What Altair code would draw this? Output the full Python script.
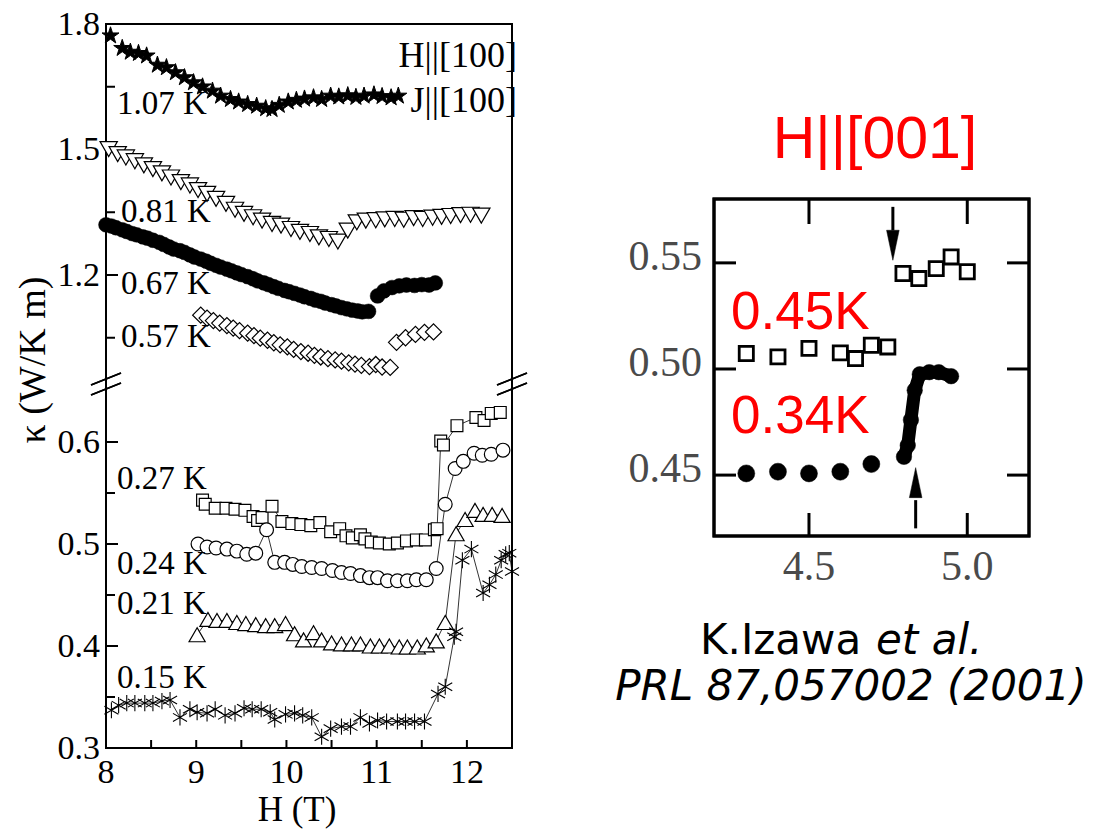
import altair as alt
import pandas as pd

# ------------------------------------------------------------------
# Thermal conductivity kappa(H) of CeCoIn5, H || [100], J || [100]
# ------------------------------------------------------------------
# 1.07 K (filled stars)
H_107 = [8.05, 8.18, 8.27, 8.36, 8.45, 8.57, 8.67, 8.77, 8.87, 8.97, 9.07, 9.18,
         9.27, 9.38, 9.47, 9.57, 9.67, 9.77, 9.84, 9.92, 10.02, 10.11, 10.20, 10.30,
         10.39, 10.49, 10.58, 10.68, 10.77, 10.86, 10.97, 11.06, 11.16, 11.24]
K_107 = [1.772, 1.742, 1.733, 1.730, 1.724, 1.702, 1.696, 1.684, 1.672, 1.660, 1.650, 1.640,
         1.628, 1.620, 1.614, 1.608, 1.604, 1.598, 1.596, 1.606, 1.614, 1.618, 1.621, 1.624,
         1.620, 1.628, 1.626, 1.629, 1.625, 1.628, 1.631, 1.627, 1.624, 1.628]

# 0.81 K (open down-triangles)
H_081 = [8.03, 8.13, 8.22, 8.32, 8.42, 8.52, 8.62, 8.72, 8.83, 8.93, 9.02, 9.12, 9.22, 9.33,
         9.43, 9.53, 9.63, 9.73, 9.84, 9.94, 10.05, 10.15, 10.26, 10.36, 10.47, 10.57, 10.68,
         10.78, 10.88, 10.99, 11.09, 11.20, 11.30, 11.41, 11.51, 11.62, 11.72, 11.82, 11.93,
         12.04, 12.16]
K_081 = [1.501, 1.489, 1.481, 1.472, 1.462, 1.453, 1.443, 1.433, 1.422, 1.414, 1.403, 1.394,
         1.382, 1.370, 1.356, 1.346, 1.338, 1.330, 1.322, 1.318, 1.310, 1.303, 1.298, 1.290,
         1.286, 1.280, 1.306, 1.326, 1.330, 1.331, 1.333, 1.334, 1.332, 1.336, 1.334, 1.337,
         1.339, 1.341, 1.343, 1.344, 1.342]

# 0.67 K (filled circles)
H_067 = [8.00, 8.06, 8.11, 8.18, 8.23, 8.29, 8.34, 8.41, 8.46, 8.52, 8.59, 8.64, 8.70, 8.75,
         8.82, 8.87, 8.93, 8.98, 9.05, 9.11, 9.16, 9.22, 9.27, 9.34, 9.39, 9.45, 9.50, 9.57,
         9.63, 9.68, 9.75, 9.80, 9.86, 9.91, 9.98, 10.03, 10.09, 10.15, 10.20, 10.27, 10.32,
         10.38, 10.43, 10.50, 10.55, 10.61, 10.67, 10.73, 10.79, 10.84, 10.91, 11.01, 11.08,
         11.17, 11.25, 11.33, 11.42, 11.50, 11.58, 11.65]
K_067 = [1.320, 1.317, 1.313, 1.308, 1.304, 1.299, 1.296, 1.291, 1.288, 1.283, 1.278, 1.273,
         1.267, 1.262, 1.258, 1.254, 1.248, 1.243, 1.238, 1.233, 1.228, 1.223, 1.219, 1.214,
         1.210, 1.205, 1.201, 1.196, 1.191, 1.186, 1.181, 1.177, 1.172, 1.168, 1.163, 1.160,
         1.156, 1.152, 1.148, 1.144, 1.140, 1.137, 1.133, 1.129, 1.126, 1.122, 1.119, 1.116,
         1.114, 1.112, 1.113, 1.150, 1.162, 1.170, 1.174, 1.176, 1.175, 1.177, 1.176, 1.181]

# 0.57 K (open diamonds)
H_057 = [9.05, 9.12, 9.19, 9.26, 9.34, 9.41, 9.48, 9.57, 9.64, 9.71, 9.79, 9.86, 9.93, 10.01,
         10.08, 10.16, 10.24, 10.31, 10.38, 10.46, 10.54, 10.61, 10.69, 10.76, 10.83, 10.92,
         10.99, 11.06, 11.15, 11.22, 11.32, 11.43, 11.53, 11.63]
K_057 = [1.104, 1.097, 1.091, 1.085, 1.079, 1.073, 1.067, 1.061, 1.055, 1.049, 1.044, 1.038,
         1.033, 1.028, 1.022, 1.017, 1.013, 1.008, 1.004, 1.000, 0.997, 0.994, 0.990, 0.987,
         0.984, 0.981, 0.986, 0.980, 0.979, 1.039, 1.050, 1.058, 1.063, 1.064]

# 0.27 K (open squares)
H_027 = [9.07, 9.10, 9.21, 9.33, 9.43, 9.54, 9.63, 9.68, 9.73, 9.84, 9.95, 10.06, 10.16,
         10.27, 10.37, 10.49, 10.59, 10.66, 10.73, 10.82, 10.87, 10.94, 11.03, 11.14, 11.23,
         11.33, 11.44, 11.54, 11.64, 11.67, 11.71, 11.74, 11.89, 12.10, 12.19, 12.27, 12.37]
K_027 = [0.543, 0.539, 0.535, 0.535, 0.534, 0.533, 0.527, 0.523, 0.526, 0.537, 0.522, 0.520,
         0.519, 0.518, 0.521, 0.512, 0.515, 0.508, 0.506, 0.509, 0.505, 0.502, 0.501, 0.500,
         0.501, 0.503, 0.504, 0.504, 0.514, 0.515, 0.601, 0.597, 0.616, 0.624, 0.621, 0.628,
         0.629]

# 0.24 K (open circles)
H_024 = [9.02, 9.12, 9.22, 9.34, 9.45, 9.56, 9.66, 9.78, 9.87, 9.98, 10.07, 10.17, 10.28,
         10.39, 10.51, 10.61, 10.71, 10.82, 10.92, 11.01, 11.12, 11.23, 11.34, 11.44, 11.55,
         11.66, 11.76, 11.87, 11.96, 12.08, 12.17, 12.27, 12.40]
K_024 = [0.500, 0.497, 0.496, 0.495, 0.493, 0.490, 0.491, 0.514, 0.482, 0.482, 0.480, 0.478,
         0.477, 0.476, 0.474, 0.472, 0.471, 0.469, 0.467, 0.467, 0.464, 0.464, 0.464, 0.465,
         0.465, 0.476, 0.539, 0.574, 0.581, 0.589, 0.587, 0.588, 0.592]

# 0.21 K (open up-triangles)
H_021 = [9.01, 9.13, 9.23, 9.34, 9.45, 9.55, 9.66, 9.77, 9.87, 9.99, 10.09, 10.19, 10.30,
         10.39, 10.50, 10.61, 10.72, 10.82, 10.93, 11.03, 11.14, 11.25, 11.34, 11.45, 11.55,
         11.66, 11.76, 11.88, 11.98, 12.09, 12.18, 12.28, 12.39]
K_021 = [0.411, 0.426, 0.425, 0.425, 0.423, 0.422, 0.421, 0.420, 0.420, 0.422, 0.412, 0.406,
         0.413, 0.406, 0.403, 0.402, 0.402, 0.402, 0.400, 0.400, 0.400, 0.399, 0.399, 0.399,
         0.401, 0.405, 0.423, 0.510, 0.524, 0.533, 0.529, 0.529, 0.528]

# 0.15 K (asterisks)
H_015 = [8.06, 8.14, 8.23, 8.32, 8.43, 8.52, 8.62, 8.71, 8.82, 8.93, 9.01, 9.12, 9.21, 9.32,
         9.43, 9.53, 9.62, 9.72, 9.82, 9.87, 9.99, 10.09, 10.18, 10.28, 10.39, 10.49, 10.61,
         10.71, 10.82, 10.92, 11.01, 11.11, 11.23, 11.32, 11.42, 11.53, 11.68, 11.76, 11.86,
         11.88, 11.95, 12.05, 12.18, 12.25, 12.32, 12.38, 12.43, 12.47, 12.50]
K_015 = [0.337, 0.342, 0.344, 0.344, 0.344, 0.344, 0.346, 0.347, 0.330, 0.338, 0.335, 0.334,
         0.338, 0.332, 0.334, 0.339, 0.338, 0.338, 0.335, 0.328, 0.333, 0.334, 0.332, 0.330,
         0.311, 0.319, 0.321, 0.321, 0.330, 0.324, 0.327, 0.326, 0.326, 0.326, 0.326, 0.326,
         0.353, 0.360, 0.409, 0.414, 0.484, 0.495, 0.452, 0.460, 0.470, 0.484, 0.490, 0.491,
         0.473]

# Inset: H || [001]
H_045 = [4.302, 4.402, 4.500, 4.599, 4.647, 4.697, 4.749, 4.797, 4.847, 4.902, 4.949, 5.000]
K_045 = [0.5073, 0.5057, 0.5097, 0.5076, 0.5049, 0.5112, 0.5104, 0.5450, 0.5426, 0.5473,
         0.5528, 0.5458]
H_034_low = [4.302, 4.402, 4.500, 4.599, 4.697]
K_034_low = [0.4508, 0.4516, 0.4508, 0.4516, 0.4552]
H_034_jump = [4.800, 4.812, 4.822, 4.834, 4.850, 4.880, 4.910, 4.949]
K_034_jump = [0.4586, 0.4640, 0.4760, 0.4900, 0.4975, 0.4985, 0.4985, 0.4966]
# transition fields marked by arrows: field, tail, tip
ARROW_H = [4.765, 4.837]
ARROW_TAIL = [0.5764, 0.4249]
ARROW_TIP = [0.5513, 0.4547]

# axis ticks and labels
UP_TICKS_MAJOR = [1.2, 1.5]
UP_TICKS_MINOR = [1.05, 1.35, 1.65]
UP_LABELS = [1.2, 1.5, 1.8]
LO_TICKS_MAJOR = [0.4, 0.5, 0.6]
LO_TICKS_MINOR = [0.35, 0.45, 0.55]
LO_LABELS = [0.3, 0.4, 0.5, 0.6]
X_TICKS = [8.5, 9, 9.5, 10, 10.5, 11, 11.5, 12]
X_LABELS = [8, 9, 10, 11, 12]
IN_Y_TICKS = [0.45, 0.50, 0.55]
IN_X_TICKS = [4.5, 5.0]

TEMPS = ["1.07 K", "0.81 K", "0.67 K", "0.57 K", "0.27 K", "0.24 K", "0.21 K", "0.15 K"]

# ------------------------------------------------------------------
# layout (pixels)
# ------------------------------------------------------------------
W, HGT = 1108, 829
LEFT, RIGHT = 106, 512
TOP, BREAK, BOTTOM = 24, 382, 748
IN_L, IN_R, IN_T, IN_B = 714, 1029, 199, 536
TEMP_POS = [(117, 104), (121, 212), (121, 284), (121, 337),
            (117, 479), (117, 564), (117, 604), (117, 678)]

SERIF = "Liberation Serif"
SANS = "Liberation Sans"

x_main = alt.Scale(domain=[8, 12.5], range=[LEFT, RIGHT], nice=False, zero=False)
y_up = alt.Scale(domain=[0.9442, 1.8], range=[BREAK, TOP], nice=False, zero=False)
y_lo = alt.Scale(domain=[0.3, 0.6588], range=[BOTTOM, BREAK], nice=False, zero=False)
x_in = alt.Scale(domain=[4.2, 5.195], range=[IN_L, IN_R], nice=False, zero=False)
y_in = alt.Scale(domain=[0.4213, 0.5801], range=[IN_B, IN_T], nice=False, zero=False)

STAR = ("M0,-1L0.2245,-0.309L0.951,-0.309L0.363,0.118L0.588,0.809L0,0.382"
        "L-0.588,0.809L-0.363,0.118L-0.951,-0.309L-0.2245,-0.309Z")
ASTERISK = "M0,-1L0,1M-0.87,-0.5L0.87,0.5M-0.87,0.5L0.87,-0.5"
HEAD_DOWN = "M-0.42,-1L0.42,-1L0,1Z"
HEAD_UP = "M-0.42,1L0.42,1L0,-1Z"


def table(h, k, tag):
    return pd.DataFrame({"H": h, "k": k, "series": tag})


def enc(chart, xs, ys):
    return chart.encode(x=alt.X("H:Q", scale=xs, axis=None),
                        y=alt.Y("k:Q", scale=ys, axis=None))


def points(df, xs, ys, shape, size, fill, sw=1.2, stroke="black"):
    m = alt.Chart(df).mark_point(shape=shape, size=size, fill=fill, fillOpacity=1,
                                 stroke=stroke, strokeWidth=sw, strokeOpacity=1)
    return enc(m, xs, ys)


def line(df, xs, ys, sw=0.8):
    return enc(alt.Chart(df).mark_line(color="black", strokeWidth=sw), xs, ys)


def text(t, x, y, size, font, color="black", align="left", baseline="middle",
         style="normal", angle=None):
    kw = dict(align=align, baseline=baseline, font=font, fontSize=size,
              color=color, fontStyle=style)
    if angle is not None:
        kw["angle"] = angle
    return alt.Chart(pd.DataFrame({"t": [t]})).mark_text(**kw).encode(
        text="t:N", x=alt.value(x), y=alt.value(y))


def seg(x1, y1, x2, y2, sw=1.5):
    return alt.Chart(pd.DataFrame({"a": [x1, y1]})).mark_rule(color="black", strokeWidth=sw).encode(
        x=alt.value(x1), y=alt.value(y1), x2=alt.value(x2), y2=alt.value(y2))


def box(x1, y1, x2, y2, sw):
    return alt.Chart(pd.DataFrame({"a": [x1, y1]})).mark_rect(
        fill="transparent", stroke="black", strokeWidth=sw).encode(
        x=alt.value(x1), y=alt.value(y1), x2=alt.value(x2), y2=alt.value(y2))


def yticks(vals, ys, x0, length, sw=2):
    df = pd.DataFrame({"v": vals})
    return alt.Chart(df).mark_rule(color="black", strokeWidth=sw).encode(
        y=alt.Y("v:Q", scale=ys, axis=None), x=alt.value(x0), x2=alt.value(x0 + length))


def xticks(vals, xs, y0, length, sw=2):
    df = pd.DataFrame({"v": vals})
    return alt.Chart(df).mark_rule(color="black", strokeWidth=sw).encode(
        x=alt.X("v:Q", scale=xs, axis=None), y=alt.value(y0), y2=alt.value(y0 + length))


def ylabels(vals, ys, fmt, x, size, font, color="black", dy=0):
    df = pd.DataFrame({"v": vals, "lab": [fmt.format(v) for v in vals]})
    return alt.Chart(df).mark_text(align="right", baseline="middle", font=font,
                                   fontSize=size, color=color, dy=dy).encode(
        y=alt.Y("v:Q", scale=ys, axis=None), x=alt.value(x), text="lab:N")


def xlabels(vals, xs, fmt, y, size, font, color="black"):
    df = pd.DataFrame({"v": vals, "lab": [fmt.format(v) for v in vals]})
    return alt.Chart(df).mark_text(align="center", baseline="middle", font=font,
                                   fontSize=size, color=color).encode(
        x=alt.X("v:Q", scale=xs, axis=None), y=alt.value(y), text="lab:N")


layers = []

# ---------------- main panel: frame, break marks, ticks ----------------
layers.append(box(LEFT, TOP, RIGHT, BOTTOM, 2))
for xc in (LEFT, RIGHT):
    for yc in (379, 389):
        layers.append(seg(xc - 15, yc + 6, xc + 15, yc - 6, 1.6))
layers.append(yticks(UP_TICKS_MAJOR, y_up, LEFT, 12))
layers.append(yticks(UP_TICKS_MINOR, y_up, LEFT, 9))
layers.append(yticks(LO_TICKS_MAJOR, y_lo, LEFT, 12))
layers.append(yticks(LO_TICKS_MINOR, y_lo, LEFT, 9))
layers.append(xticks(X_TICKS, x_main, BOTTOM - 8, 8))

layers.append(ylabels(UP_LABELS, y_up, "{:.1f}", 100, 34, SERIF, dy=1))
layers.append(ylabels(LO_LABELS, y_lo, "{:.1f}", 100, 34, SERIF, dy=1))
layers.append(xlabels(X_LABELS, x_main, "{:d}", 773, 34, SERIF))
layers.append(text("H (T)", 297, 821, 35, SERIF, align="center", baseline="alphabetic"))
layers.append(text("κ (W/K m)", 34, 360, 38, SERIF, align="center", angle=270))

# ---------------- main panel: data (built-in symbols) ----------------
d107 = table(H_107, K_107, "1.07 K")
d081 = table(H_081, K_081, "0.81 K")
d067 = table(H_067, K_067, "0.67 K")
d057 = table(H_057, K_057, "0.57 K")
d027 = table(H_027, K_027, "0.27 K")
d024 = table(H_024, K_024, "0.24 K")
d021 = table(H_021, K_021, "0.21 K")
d015 = table(H_015, K_015, "0.15 K")

for d in (d027, d024, d021, d015):
    layers.append(line(d, x_main, y_lo))

layers.append(points(d081, x_main, y_up, "triangle-down", 300, "white"))
layers.append(points(d067, x_main, y_up, "circle", 220, "black", sw=0.5))
layers.append(points(d057, x_main, y_up, "diamond", 260, "white"))
layers.append(points(d027, x_main, y_lo, "square", 140, "white"))
layers.append(points(d024, x_main, y_lo, "circle", 190, "white"))
layers.append(points(d021, x_main, y_lo, "triangle-up", 260, "white"))

for t, (tx, ty) in zip(TEMPS, TEMP_POS):
    layers.append(text(t, tx, ty, 33, SERIF))
layers.append(text("H||[100]", 517, 56, 36, SERIF, align="right"))
layers.append(text("J||[100]", 517, 101, 36, SERIF, align="right"))

# ---------------- inset frame, ticks, labels ----------------
layers.append(box(IN_L, IN_T, IN_R, IN_B, 3))
layers.append(yticks(IN_Y_TICKS, y_in, IN_L, 22, 3))
layers.append(yticks(IN_Y_TICKS, y_in, IN_R - 22, 22, 3))
layers.append(xticks(IN_X_TICKS, x_in, IN_T, 25, 3))
layers.append(xticks(IN_X_TICKS, x_in, IN_B - 23, 23, 3))
layers.append(ylabels(IN_Y_TICKS, y_in, "{:.2f}", 702, 42, SERIF, color="#4a4a4a", dy=-6))
layers.append(xlabels(IN_X_TICKS, x_in, "{:.1f}", 567, 42, SERIF, color="#4a4a4a"))

layers.append(text("H||[001]", 875, 158, 59, SANS, color="#ff0000", align="center",
                   baseline="alphabetic"))
layers.append(text("0.45K", 731, 313, 53, SANS, color="#ff0000"))
layers.append(text("0.34K", 731, 417, 53, SANS, color="#ff0000"))

# citation
layers.append(text("K.Izawa", 700, 654, 42, "DejaVu Sans", baseline="alphabetic"))
layers.append(text("et al.", 876, 654, 42, "DejaVu Sans", baseline="alphabetic", style="italic"))
layers.append(text("PRL 87,057002 (2001)", 851, 700, 42, "DejaVu Sans", align="center",
                   baseline="alphabetic", style="italic"))

# ---------------- inset data ----------------
arrows = pd.DataFrame({"H": ARROW_H, "tail": ARROW_TAIL, "tip": ARROW_TIP})
arrows["dir"] = ["down", "up"]
arrows["base"] = [t + 0.0140 if d == "down" else t - 0.0165
                  for t, d in zip(arrows["tip"], arrows["dir"])]
arrows["mid"] = (arrows["tip"] + arrows["base"]) / 2
layers.append(alt.Chart(arrows).mark_rule(color="black", strokeWidth=3).encode(
    x=alt.X("H:Q", scale=x_in, axis=None),
    y=alt.Y("tail:Q", scale=y_in, axis=None), y2="base:Q"))

layers.append(line(table(H_034_jump, K_034_jump, "0.34K"), x_in, y_in, sw=13))
layers.append(points(table(H_034_low, K_034_low, "0.34K"), x_in, y_in, "circle", 290, "black", sw=0.5))
layers.append(points(table(H_034_jump, K_034_jump, "0.34K"), x_in, y_in, "circle", 240, "black", sw=0.5))
layers.append(points(table(H_045, K_045, "0.45K"), x_in, y_in, "square", 200, "white", sw=2.8))

# ---------------- path-drawn symbols ----------------
layers.append(points(d015, x_main, y_lo, ASTERISK, 260, "white", sw=1.1))
for d, path in (("down", HEAD_DOWN), ("up", HEAD_UP)):
    sub = arrows[arrows["dir"] == d][["H", "mid"]].rename(columns={"mid": "k"})
    layers.append(points(sub, x_in, y_in, path, 900, "black", sw=0.5))
layers.append(points(d107, x_main, y_up, STAR, 320, "black", sw=1.0))

chart = (
    alt.layer(*layers)
    .resolve_scale(x="independent", y="independent")
    .properties(width=W, height=HGT, autosize=alt.AutoSizeParams(type="none"), padding=0)
    .configure_view(stroke=None)
)

chart.save("out.html", embed_options={"renderer": "svg", "actions": False})
